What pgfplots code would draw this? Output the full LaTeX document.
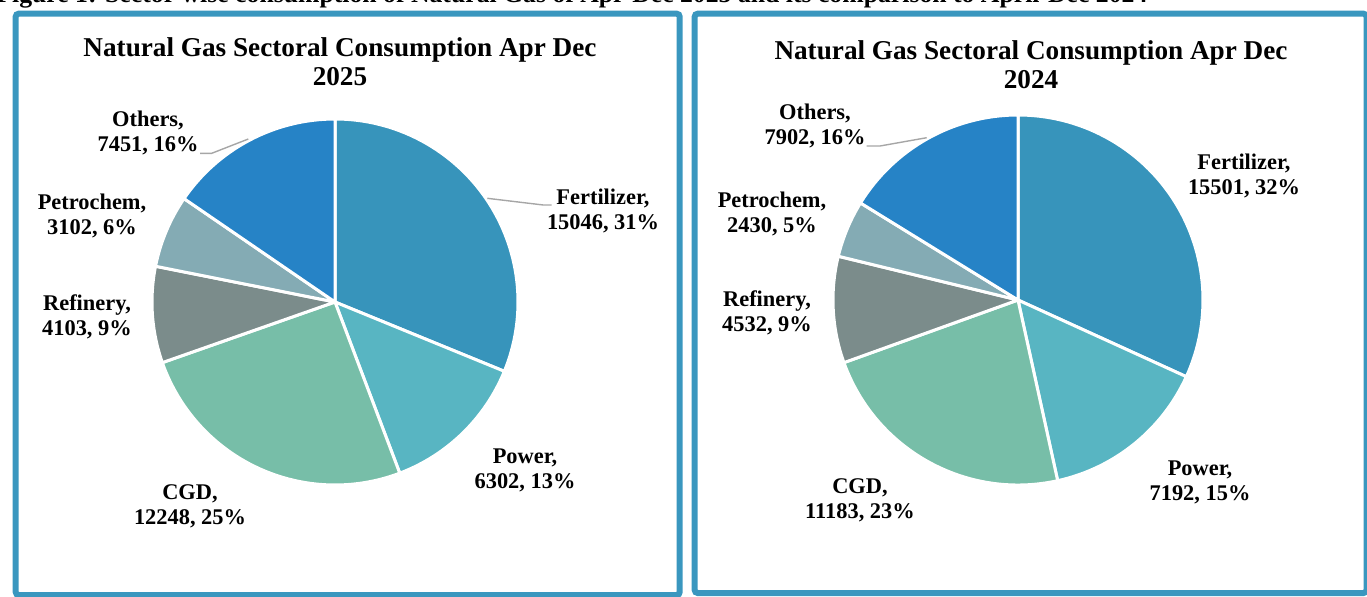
\documentclass[border=0pt]{standalone}
\usepackage{fontspec}
\setmainfont{Liberation Serif}
\usepackage{pgfplots}
\pgfplotsset{compat=1.18}
\usepgfplotslibrary{polar}

\definecolor{cFert}{HTML}{3794BB}
\definecolor{cPow}{HTML}{58B5C2}
\definecolor{cCGD}{HTML}{77BEA8}
\definecolor{cRef}{HTML}{7B8C8B}
\definecolor{cPet}{HTML}{84ABB4}
\definecolor{cOth}{HTML}{2683C6}
\definecolor{cBox}{HTML}{3A97BF}
\definecolor{cLead}{HTML}{A6A6A6}

% Apr-Dec 2025: Fertilizer, Power, CGD, Refinery, Petrochem, Others
\edef\LT{\fpeval{15046+6302+12248+4103+3102+7451}}
\edef\La{90}
\edef\Lb{\fpeval{round(\La-360*15046/\LT,4)}}
\edef\Lc{\fpeval{round(\Lb-360*6302/\LT,4)}}
\edef\Ld{\fpeval{round(\Lc-360*12248/\LT,4)}}
\edef\Le{\fpeval{round(\Ld-360*4103/\LT,4)}}
\edef\Lf{\fpeval{round(\Le-360*3102/\LT,4)}}
\edef\Lg{\fpeval{round(\Lf-360*7451/\LT,4)}}
% Apr-Dec 2024
\edef\RT{\fpeval{15501+7192+11183+4532+2430+7902}}
\edef\Ra{90}
\edef\Rb{\fpeval{round(\Ra-360*15501/\RT,4)}}
\edef\Rc{\fpeval{round(\Rb-360*7192/\RT,4)}}
\edef\Rd{\fpeval{round(\Rc-360*11183/\RT,4)}}
\edef\Re{\fpeval{round(\Rd-360*4532/\RT,4)}}
\edef\Rf{\fpeval{round(\Re-360*2430/\RT,4)}}
\edef\Rg{\fpeval{round(\Rf-360*7902/\RT,4)}}

\newcommand\slice[4]{%
  \addplot[fill=#1, draw=white, line width=1.5pt, line join=round]
    coordinates {(0,0) (#2,1)} arc[start angle=#2, end angle=#3, radius=#4] -- cycle;}

\begin{document}
\begin{tikzpicture}
\path[use as bounding box] (0,0) rectangle (683.5pt,-298pt);
\clip (0,0) rectangle (683.5pt,-298pt);

\begin{scope}[x=0.5pt,y=-0.5pt]
  \node[anchor=base west, inner sep=0pt] at (-4,2.5)
    {\resizebox{575.5pt}{!}{\bfseries\fontsize{12}{14}\selectfont Figure 1: Sector wise consumption of Natural Gas of Apr-Dec 2025 and its comparison to April-Dec 2024}};
  \draw[cBox, line width=3pt, rounded corners=1.5pt] (15.7,13.7) rectangle (679.7,595);
  \draw[cBox, line width=3pt, rounded corners=1.5pt] (694.7,13.7) rectangle (1366.5,593);
\end{scope}

\begin{polaraxis}[hide axis, scale only axis, width=183pt, height=183pt,
  ymin=0, ymax=1, at={(167.5pt,-151pt)}, anchor=center, clip=false]
  \slice{cFert}{\La}{\Lb}{91.5pt}
  \slice{cPow}{\Lb}{\Lc}{91.5pt}
  \slice{cCGD}{\Lc}{\Ld}{91.5pt}
  \slice{cRef}{\Ld}{\Le}{91.5pt}
  \slice{cPet}{\Le}{\Lf}{91.5pt}
  \slice{cOth}{\Lf}{\Lg}{91.5pt}
\end{polaraxis}

\begin{polaraxis}[hide axis, scale only axis, width=185pt, height=185pt,
  ymin=0, ymax=1, at={(509pt,-150pt)}, anchor=center, clip=false]
  \slice{cFert}{\Ra}{\Rb}{92.5pt}
  \slice{cPow}{\Rb}{\Rc}{92.5pt}
  \slice{cCGD}{\Rc}{\Rd}{92.5pt}
  \slice{cRef}{\Rd}{\Re}{92.5pt}
  \slice{cPet}{\Re}{\Rf}{92.5pt}
  \slice{cOth}{\Rf}{\Rg}{92.5pt}
\end{polaraxis}

\begin{scope}[x=0.5pt,y=-0.5pt,
  lab/.style={align=center, inner sep=0pt, font=\bfseries\fontsize{11.2}{12.5}\selectfont},
  ttl/.style={align=center, inner sep=0pt, font=\bfseries\fontsize{13.6}{14.5}\selectfont}]
  % titles
  \node[ttl] at (340,62) {Natural Gas Sectoral Consumption Apr Dec\\2025};
  \node[ttl] at (1031,65) {Natural Gas Sectoral Consumption Apr Dec\\2024};
  % leader lines
  \draw[cLead, line width=0.7pt] (200,153.3) -- (211.7,153.3) -- (248.3,139);
  \draw[cLead, line width=0.7pt] (487.3,198.3) -- (543.3,205) -- (551.7,205);
  \draw[cLead, line width=0.7pt] (866.7,146) -- (880,146) -- (926.7,137.7);
  % labels 2025
  \node[lab] at (603,211) {Fertilizer,\\15046, 31\%};
  \node[lab] at (525,470) {Power,\\6302, 13\%};
  \node[lab] at (190,506) {CGD,\\12248, 25\%};
  \node[lab] at (87,317) {Refinery,\\4103, 9\%};
  \node[lab] at (92,216) {Petrochem,\\3102, 6\%};
  \node[lab] at (148,133) {Others,\\7451, 16\%};
  % labels 2024
  \node[lab] at (1244,176) {Fertilizer,\\15501, 32\%};
  \node[lab] at (1200,482) {Power,\\7192, 15\%};
  \node[lab] at (860,500) {CGD,\\11183, 23\%};
  \node[lab] at (767,313) {Refinery,\\4532, 9\%};
  \node[lab] at (772,214) {Petrochem,\\2430, 5\%};
  \node[lab] at (815,126) {Others,\\7902, 16\%};
\end{scope}
\end{tikzpicture}
\end{document}
